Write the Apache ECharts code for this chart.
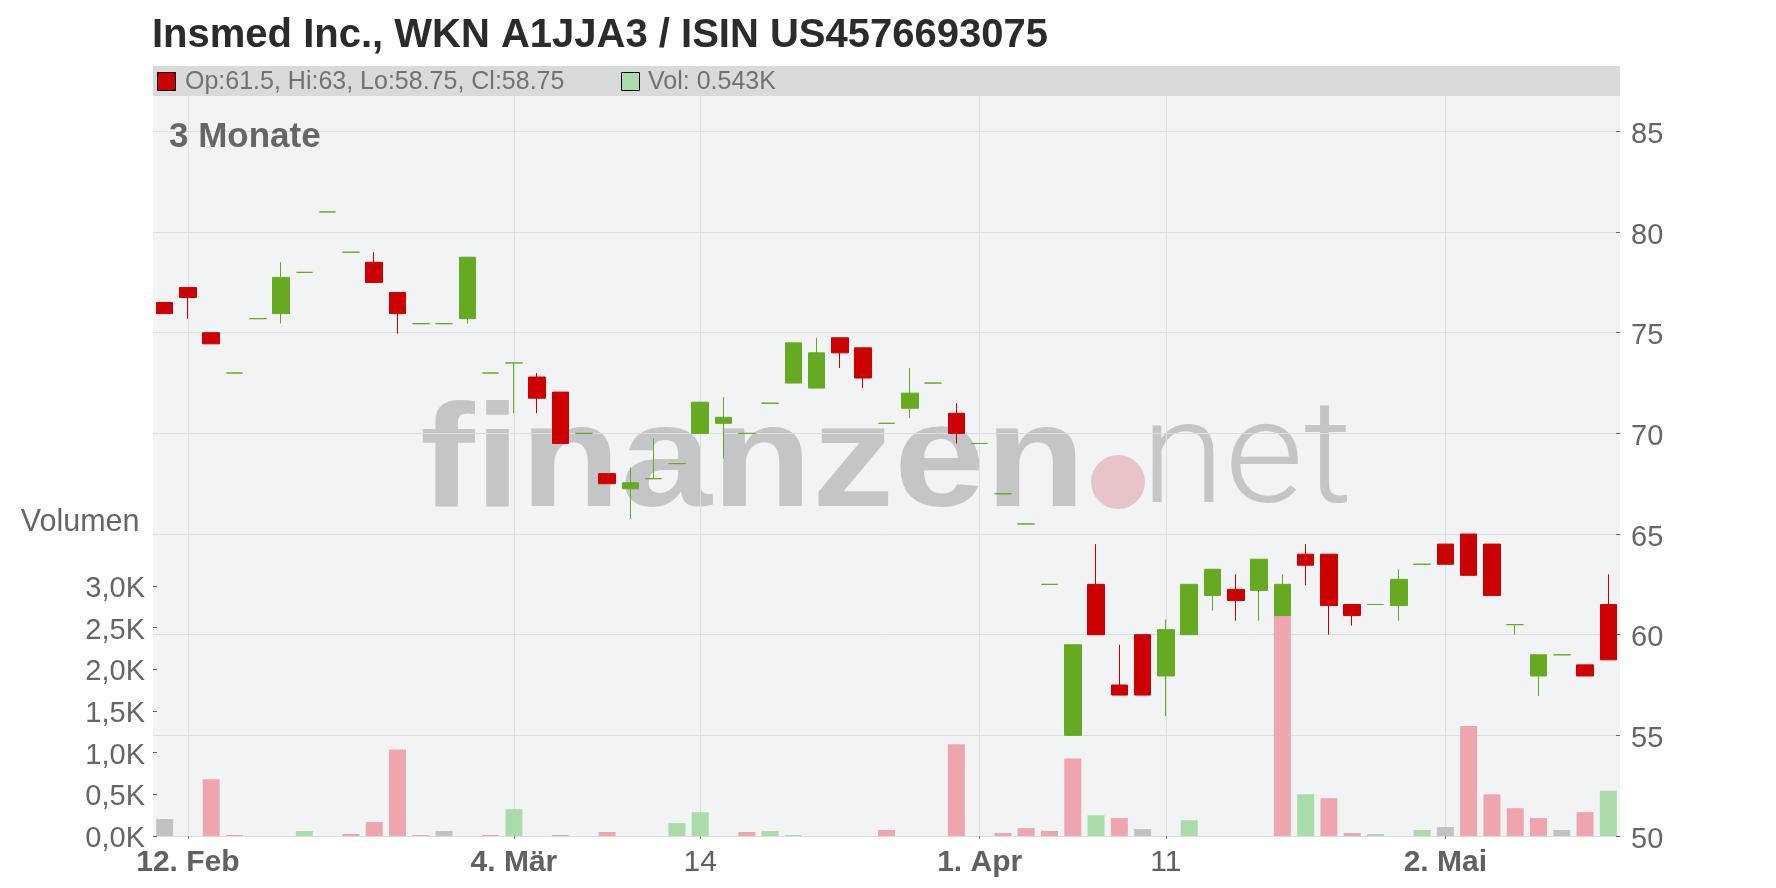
<!DOCTYPE html>
<html>
<head>
<meta charset="utf-8">
<script src="https://cdn.jsdelivr.net/npm/echarts@6/dist/echarts.min.js"></script>
<style>
html,body{margin:0;padding:0;background:#fff;}
#chart{width:1776px;height:888px;}
</style>
</head>
<body>
<div id="chart"></div>
<script>
// ---------- DATA ----------
const titleText = 'Insmed Inc., WKN A1JJA3 / ISIN US4576693075';
const periodLabel = '3 Monate';
const volumeLabel = 'Volumen';

const dates = [
  '2025-02-11','2025-02-12','2025-02-13','2025-02-14','2025-02-17','2025-02-18','2025-02-19','2025-02-20','2025-02-21',
  '2025-02-24','2025-02-25','2025-02-26','2025-02-27','2025-02-28',
  '2025-03-03','2025-03-04','2025-03-05','2025-03-06','2025-03-07',
  '2025-03-10','2025-03-11','2025-03-12','2025-03-13','2025-03-14',
  '2025-03-17','2025-03-18','2025-03-19','2025-03-20','2025-03-21',
  '2025-03-24','2025-03-25','2025-03-26','2025-03-27','2025-03-28','2025-03-31',
  '2025-04-01','2025-04-02','2025-04-03','2025-04-04',
  '2025-04-07','2025-04-08','2025-04-09','2025-04-10','2025-04-11',
  '2025-04-14','2025-04-15','2025-04-16','2025-04-17',
  '2025-04-22','2025-04-23','2025-04-24','2025-04-25',
  '2025-04-28','2025-04-29','2025-04-30',
  '2025-05-02','2025-05-05','2025-05-06','2025-05-07','2025-05-08','2025-05-09',
  '2025-05-12','2025-05-13'
];

const open = [
  76.5, 77.25, 75.0, 73.0, 75.7, 75.95, 78.0, 81.0, 79.0, 78.5,
  77.0, 75.45, 75.45, 75.7, 73.0, 73.5, 72.8, 72.05, 70.0, 68.0,
  67.25, 67.75, 68.5, 70.0, 70.5, 70.0, 71.5, 72.5, 72.25, 74.75,
  74.25, 70.5, 71.25, 72.5, 71.0, 69.5, 67.0, 65.5, 62.5, 55.0,
  62.5, 57.5, 60.0, 57.95, 60.0, 61.95, 62.25, 62.2, 60.95, 64.0,
  64.0, 61.5, 61.5, 61.45, 63.5, 64.5, 65.0, 64.5, 60.5, 57.95,
  59.0, 58.5, 61.5
];
const high = [
  76.5, 77.25, 75.0, 73.0, 75.7, 78.5, 78.0, 81.0, 79.0, 79.0,
  77.0, 75.45, 75.45, 78.75, 73.0, 73.5, 73.0, 72.05, 70.0, 68.0,
  68.3, 69.75, 68.5, 71.55, 71.8, 70.0, 71.5, 74.5, 74.75, 74.75,
  74.25, 70.5, 73.25, 72.5, 71.5, 69.5, 67.0, 65.5, 62.5, 59.5,
  64.5, 59.5, 60.0, 60.75, 62.5, 63.25, 63.0, 63.75, 63.0, 64.5,
  64.0, 61.5, 61.5, 63.25, 63.5, 64.5, 65.0, 64.5, 60.5, 59.0,
  59.0, 58.5, 63
];
const low = [
  75.95, 75.7, 74.45, 73.0, 75.7, 75.45, 78.0, 81.0, 79.0, 77.5,
  74.95, 75.45, 75.45, 75.45, 73.0, 71.0, 71.0, 69.5, 70.0, 67.5,
  65.75, 67.75, 68.5, 70.0, 68.75, 70.0, 71.5, 72.5, 72.25, 73.25,
  72.25, 70.5, 70.75, 72.5, 69.5, 69.5, 67.0, 65.5, 62.5, 55.0,
  60.0, 57.0, 57.0, 55.95, 60.0, 61.2, 60.7, 60.7, 60.95, 62.45,
  60.0, 60.45, 61.5, 60.7, 63.5, 63.5, 62.95, 61.95, 60.0, 56.95,
  59.0, 57.95, 58.75
];
const close = [
  75.95, 76.75, 74.45, 73.0, 75.7, 77.75, 78.0, 81.0, 79.0, 77.5,
  75.95, 75.45, 75.45, 78.75, 73.0, 73.5, 71.75, 69.5, 70.0, 67.5,
  67.55, 67.75, 68.5, 71.55, 70.8, 70.0, 71.5, 74.5, 74.0, 74.0,
  72.75, 70.5, 72.0, 72.5, 70.0, 69.5, 67.0, 65.5, 62.5, 59.5,
  60.0, 57.0, 57.0, 60.25, 62.5, 63.25, 61.7, 63.75, 62.5, 63.45,
  61.45, 60.95, 61.5, 62.75, 63.5, 63.5, 62.95, 61.95, 60.5, 59.0,
  59.0, 57.95, 58.75
];
const volume = [
  203, 0, 680, 12, 0, 0, 60, 0, 24, 167,
  1037, 12, 60, 0, 12, 322, 0, 12, 0, 48,
  0, 0, 155, 286, 0, 48, 60, 12, 0, 0,
  0, 72, 0, 0, 1100, 0, 36, 95, 60, 930,
  250, 215, 83, 0, 190, 0, 0, 0, 2650, 500,
  453, 36, 24, 0, 72, 107, 1320, 500, 334, 215,
  72, 286, 543
];

const tickDates  = ['2025-02-12','2025-03-04','2025-03-14','2025-04-01','2025-04-11','2025-05-02'];
const tickLabels = ['12. Feb','4. Mär','14','1. Apr','11','2. Mai'];
const priceTicks = [50, 55, 60, 65, 70, 75, 80, 85];
const volumeTicks = [0, 500, 1000, 1500, 2000, 2500, 3000];

// ---------- STYLE ----------
const C_UP = '#66aa22', C_DOWN = '#cc0000';
const V_UP = '#aadcaa', V_DOWN = '#eea5ad', V_FLAT = '#c1c1c1';
const FONT = '"Liberation Sans", Arial, Helvetica, sans-serif';
const GRID_COLOR = '#dcdddf';
const PL = 153, PR = 1620, PT = 96, PB = 836;

const tickIdx = {};
tickDates.forEach((d, i) => { tickIdx[d] = i; });
const isTick = (idx) => tickIdx[dates[idx]] !== undefined;

const candleData = dates.map((d, i) => {
  const item = { value: [open[i], close[i], low[i], high[i]] };
  if (open[i] === close[i]) {
    item.itemStyle = { color: C_UP, color0: C_UP, borderColor: C_UP, borderColor0: C_UP, borderColorDoji: C_UP };
  }
  return item;
});
const volData = volume.map((v, i) => {
  let col = V_FLAT;
  if (i > 0 && close[i] > close[i - 1]) col = V_UP;
  else if (i > 0 && close[i] < close[i - 1]) col = V_DOWN;
  return { value: v, itemStyle: { color: col } };
});

const last = dates.length - 1;
const legendPrice = 'Op:' + open[last] + ', Hi:' + high[last] + ', Lo:' + low[last] + ', Cl:' + close[last];
const legendVol = 'Vol: ' + (volume[last] / 1000).toFixed(3) + 'K';
const lastUp = close[last] >= open[last];

const chart = echarts.init(document.getElementById('chart'), null, { renderer: 'canvas' });
const option = {
  animation: false,
  backgroundColor: '#ffffff',
  textStyle: { fontFamily: FONT },
  grid: [
    { left: PL, right: 1776 - PR, top: PT, bottom: 888 - PB, outerBoundsMode: 'none', containLabel: false },
    { left: PL, right: 1776 - PR, top: 586, bottom: 888 - PB, outerBoundsMode: 'none', containLabel: false }
  ],
  xAxis: [
    {
      type: 'category', gridIndex: 0, data: dates, boundaryGap: true,
      axisLine: { show: false },
      axisTick: { show: true, alignWithLabel: true, length: 3, interval: (i) => isTick(i), lineStyle: { color: '#888' } },
      axisLabel: {
        interval: (i) => isTick(i),
        margin: 12,
        formatter: (val) => {
          const lab = tickLabels[tickIdx[val]];
          if (lab === undefined) return '';
          return lab.indexOf('.') >= 0 ? '{b|' + lab + '}' : '{n|' + lab + '}';
        },
        rich: {
          b: { fontSize: 30, fontWeight: 'bold', color: '#616161', fontFamily: FONT },
          n: { fontSize: 30, fontWeight: 'normal', color: '#616161', fontFamily: FONT }
        }
      },
      splitLine: { show: true, alignWithLabel: true, interval: (i) => isTick(i), lineStyle: { color: GRID_COLOR, width: 1 } }
    },
    {
      type: 'category', gridIndex: 1, data: dates, boundaryGap: true, show: false,
      axisLine: { show: false }, axisTick: { show: false }, axisLabel: { show: false }, splitLine: { show: false }
    }
  ],
  yAxis: [
    {
      type: 'value', gridIndex: 0, position: 'right', min: 50, max: 86.76, interval: 5, scale: false,
      axisLine: { show: false },
      axisTick: { show: true, inside: true, length: 4, lineStyle: { color: '#666' }, customValues: priceTicks },
      axisLabel: { color: '#666', fontSize: 29, margin: 11, verticalAlign: 'top', lineHeight: 7, fontFamily: FONT, customValues: priceTicks, formatter: (v) => String(v) },
      splitLine: { show: true, lineStyle: { color: GRID_COLOR, width: 1 } }
    },
    {
      type: 'value', gridIndex: 1, position: 'left', min: 0, max: 3000, interval: 500,
      axisLine: { show: false },
      axisTick: { show: true, inside: true, length: 4, lineStyle: { color: '#666' }, customValues: volumeTicks },
      axisLabel: {
        color: '#666', fontSize: 29, margin: 8, verticalAlign: 'top', lineHeight: 6, fontFamily: FONT, customValues: volumeTicks,
        formatter: (v) => (v / 1000).toFixed(1).replace('.', ',') + 'K'
      },
      splitLine: { show: false }
    }
  ],
  graphic: [
    { type: 'rect', z: -10, silent: true, shape: { x: PL, y: PT, width: PR - PL, height: PB - PT }, style: { fill: '#f2f3f5' } },
    { type: 'rect', z: -10, silent: true, shape: { x: PL, y: 66, width: PR - PL, height: PT - 66 }, style: { fill: '#d9dadb' } },
    // watermark
    { type: 'text', z: -5, silent: true, x: 420, y: 466, scaleX: 1.045, scaleY: 0.935,
      style: { text: 'finanzen', font: 'bold 157px ' + FONT, fill: '#c4c5c7', verticalAlign: 'middle' } },
    { type: 'circle', z: -5, silent: true, shape: { cx: 1118, cy: 482, r: 27 }, style: { fill: '#e8c3c7' } },
    { type: 'text', z: -5, silent: true, x: 1141, y: 466, scaleX: 1.05,
      style: { text: 'net', font: '300 145px Roboto, Lato, ' + FONT, fill: '#c4c5c7', verticalAlign: 'middle' } },
    // title
    { type: 'text', z: 10, x: 152, y: 35.5,
      style: { text: titleText, font: 'bold 40px ' + FONT, fill: '#2b2b2b', verticalAlign: 'middle' } },
    // legend
    { type: 'rect', z: 10, shape: { x: 157.5, y: 72.5, width: 18, height: 18 }, style: { fill: lastUp ? C_UP : C_DOWN, stroke: '#000', lineWidth: 1 } },
    { type: 'text', z: 10, x: 185, y: 82, style: { text: legendPrice, font: '25px ' + FONT, fill: '#727272', verticalAlign: 'middle' } },
    { type: 'rect', z: 10, shape: { x: 621.5, y: 72.5, width: 18, height: 18 }, style: { fill: V_UP, stroke: '#000', lineWidth: 1 } },
    { type: 'text', z: 10, x: 648, y: 82, style: { text: legendVol, font: '25px ' + FONT, fill: '#727272', verticalAlign: 'middle' } },
    // labels
    { type: 'text', z: 10, x: 169, y: 137.5, style: { text: periodLabel, font: 'bold 35px ' + FONT, fill: '#666', verticalAlign: 'middle' } },
    { type: 'text', z: 10, x: 139.5, y: 522.5, style: { text: volumeLabel, font: '30.5px ' + FONT, fill: '#666', align: 'right', verticalAlign: 'middle' } }
  ],
  series: [
    {
      type: 'bar', name: 'Volumen', xAxisIndex: 1, yAxisIndex: 1, data: volData, barWidth: 17, silent: true, z: 2
    },
    {
      type: 'candlestick', name: 'Kurs', xAxisIndex: 0, yAxisIndex: 0, data: candleData, barWidth: 17, silent: true, z: 3,
      itemStyle: { color: C_UP, color0: C_DOWN, borderColor: C_UP, borderColor0: C_DOWN, borderColorDoji: C_UP, borderWidth: 1 }
    }
  ]
};
chart.setOption(option);
</script>
</body>
</html>
